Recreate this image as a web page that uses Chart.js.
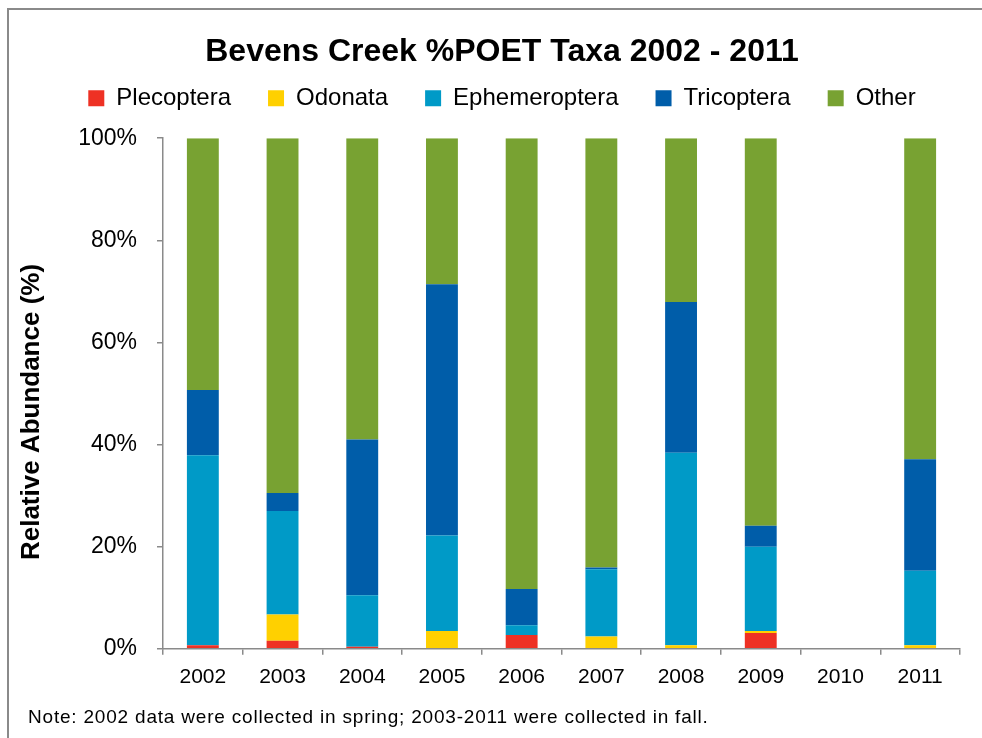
<!DOCTYPE html>
<html lang="en">
<head>
<meta charset="UTF-8">
<title>Bevens Creek %POET Taxa 2002 - 2011</title>
<script src="https://cdn.jsdelivr.net/npm/chart.js"></script>
<style>
    body { margin: 0; background: #fff; overflow: hidden; }
    .chart-wrap { position: relative; width: 982px; height: 738px; }
    .frame {
        position: absolute; left: 7px; top: 8px;
        width: 1000px; height: 800px;
        border: 2px solid #8a8a8a;
        pointer-events: none;
    }
</style>
</head>
<body>
<div class="chart-wrap">
    <canvas id="poetChart"></canvas>
    <div class="frame"></div>
</div>

<script>
    // % relative abundance per sampling year (2010 not sampled)
    const years = ['2002', '2003', '2004', '2005', '2006', '2007', '2008', '2009', '2010', '2011'];
    const plecoptera    = [0.7, 1.6, 0.4, 0,    2.7, 0,    0,    3.1, null, 0];
    const odonata       = [0,   5.1, 0,   3.5,  0,   2.4,  0.7,  0.4, null, 0.7];
    const ephemeroptera = [37.2, 20.3, 10.1, 18.7, 1.9, 13.2, 37.7, 16.5, null, 14.6];
    const tricoptera    = [12.8, 3.5, 30.5, 49.2, 7.1, 0.3, 29.5, 4.1, null, 21.8];
    const other         = [49.3, 69.5, 59.0, 28.6, 88.3, 84.1, 32.1, 75.9, null, 62.9];
    const yTicks = [0, 20, 40, 60, 80, 100];

    const chartTitle = 'Bevens Creek %POET Taxa 2002 - 2011';
    const yTitle = 'Relative Abundance (%)';
    const note = 'Note: 2002 data were collected in spring; 2003-2011 were collected in fall.';

    const FONT = '"Liberation Sans", Arial, sans-serif';
    const AXIS_GREY = '#8a8a8a';

    // rotated y title and the footnote
    const extraText = {
        id: 'extraText',
        afterDraw(chart) {
            const ctx = chart.ctx;
            ctx.save();
            ctx.fillStyle = '#000';
            ctx.font = 'bold 26px ' + FONT;
            ctx.textAlign = 'center';
            ctx.textBaseline = 'middle';
            ctx.translate(32, 412);
            ctx.rotate(-Math.PI / 2);
            ctx.fillText(yTitle, 0, 0);
            ctx.restore();

            ctx.save();
            ctx.fillStyle = '#000';
            ctx.font = '19px ' + FONT;
            ctx.letterSpacing = '0.8px';
            ctx.textAlign = 'left';
            ctx.textBaseline = 'middle';
            ctx.fillText(note, 28, 718);
            ctx.restore();
        }
    };

    // extra room between the legend row and the plot
    const legendSpacing = {
        id: 'legendSpacing',
        beforeInit(chart) {
            const fit = chart.legend.fit;
            chart.legend.fit = function () {
                fit.call(this);
                this.height += 18;
            };
        }
    };

    function series(label, data, color) {
        return { label, data, backgroundColor: color, borderWidth: 0 };
    }

    const ctx = document.getElementById('poetChart').getContext('2d');
    const poetChart = new Chart(ctx, {
        type: 'bar',
        data: {
            labels: years,
            datasets: [
                series('Plecoptera', plecoptera, '#EE3124'),
                series('Odonata', odonata, '#FFD000'),
                series('Ephemeroptera', ephemeroptera, '#009AC7'),
                series('Tricoptera', tricoptera, '#005DA9'),
                series('Other', other, '#78A232')
            ]
        },
        options: {
            responsive: true,
            maintainAspectRatio: false,
            animation: false,
            layout: { padding: { left: 44, right: 22, top: 0, bottom: 38 } },
            datasets: { bar: { categoryPercentage: 1, barPercentage: 0.4 } },
            plugins: {
                title: {
                    display: true,
                    text: chartTitle,
                    color: '#000',
                    font: { family: FONT, size: 32, weight: 'bold' },
                    padding: { top: 33, bottom: -22.2 }
                },
                legend: {
                    position: 'top',
                    labels: {
                        color: '#000',
                        font: { family: FONT, size: 24 },
                        boxWidth: 16,
                        boxHeight: 16,
                        padding: 37
                    }
                },
                tooltip: { enabled: false }
            },
            scales: {
                x: {
                    stacked: true,
                    border: { color: AXIS_GREY, width: 1.5 },
                    grid: {
                        offset: true,
                        drawOnChartArea: false,
                        color: AXIS_GREY,
                        lineWidth: 1.5,
                        tickLength: 6
                    },
                    ticks: {
                        color: '#000',
                        font: { family: FONT, size: 21 },
                        padding: 10,
                        maxRotation: 0
                    }
                },
                y: {
                    stacked: true,
                    min: 0,
                    max: 100,
                    afterFit(scale) { scale.width = 119; },
                    afterBuildTicks(scale) {
                        scale.ticks = yTicks.map(v => ({ value: v }));
                    },
                    border: { color: AXIS_GREY, width: 1.5 },
                    grid: {
                        drawOnChartArea: false,
                        color: AXIS_GREY,
                        lineWidth: 1.5,
                        tickLength: 6
                    },
                    ticks: {
                        color: '#000',
                        font: { family: FONT, size: 23 },
                        padding: 20,
                        callback: v => v + '%'
                    }
                }
            }
        },
        plugins: [extraText, legendSpacing]
    });
</script>
</body>
</html>
